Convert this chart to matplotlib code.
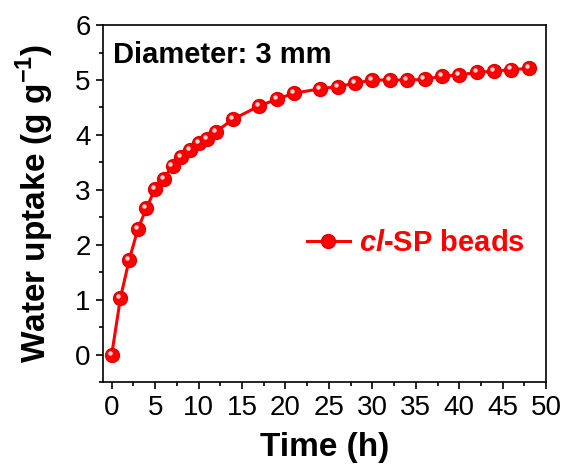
import matplotlib
matplotlib.use("Agg")
import matplotlib.pyplot as plt
import matplotlib.transforms as mtransforms
from matplotlib.ticker import MultipleLocator

plt.rcParams['font.family'] = ['Liberation Sans', 'DejaVu Sans']
plt.rcParams['mathtext.fontset'] = 'custom'
plt.rcParams['mathtext.rm'] = 'Liberation Sans'
plt.rcParams['mathtext.bf'] = 'Liberation Sans:bold'
plt.rcParams['mathtext.bfit'] = 'Liberation Sans:bold:italic'

# data
time_h = [0, 1, 2, 3, 4, 5, 6, 7, 8, 9, 10, 11, 12, 14, 17, 19, 21, 24, 26, 28,
          30, 32, 34, 36, 38, 40, 42, 44, 46, 48]
uptake = [0.0, 1.03, 1.72, 2.28, 2.67, 3.02, 3.20, 3.44, 3.60, 3.72, 3.86, 3.92,
          4.06, 4.29, 4.53, 4.65, 4.76, 4.84, 4.88, 4.94, 5.00, 5.00, 5.00, 5.01,
          5.07, 5.09, 5.14, 5.16, 5.19, 5.21]

fig = plt.figure(figsize=(5.66, 4.73), dpi=100)
ax = fig.add_axes([0.182, 0.192, 0.783, 0.755])

ax.plot(time_h, uptake, '-o', color='#ff0000', lw=2.2, ms=10, mec='#e00000',
        mew=1, label=r'$\mathbfit{cl}$-SP beads', zorder=3)
# little highlight on each bead
hl = mtransforms.offset_copy(ax.transData, fig=fig, x=-1.5, y=1.5, units='points')
ax.plot(time_h, uptake, 'o', color='#ffd8d8', ms=3.2, mew=0, transform=hl, zorder=4)

ax.set_xlim(-1, 50)
ax.set_ylim(-0.5, 6)
ax.xaxis.set_major_locator(MultipleLocator(5))
ax.xaxis.set_minor_locator(MultipleLocator(2.5))
ax.yaxis.set_major_locator(MultipleLocator(1))
ax.yaxis.set_minor_locator(MultipleLocator(0.5))
ax.tick_params(which='both', direction='out', top=False, right=False, width=1.2)
ax.tick_params(which='major', length=5, labelsize=20, pad=4)
ax.tick_params(which='minor', length=3)
for s in ax.spines.values():
    s.set_linewidth(1.2)

ax.set_xlabel('Time (h)', fontsize=24, fontweight='bold', labelpad=8)
ax.set_ylabel(r'Water uptake (g g$^{\mathbf{-1}}$)', fontsize=24, fontweight='bold', labelpad=14)

ax.text(0.022, 0.955, 'Diameter: 3 mm', transform=ax.transAxes, fontsize=21,
        fontweight='bold', va='top', ha='left')

leg = ax.legend(loc='center left', bbox_to_anchor=(0.40, 0.39), frameon=False,
                fontsize=21, handlelength=1.5, handletextpad=0.3)
for t in leg.get_texts():
    t.set_color('#ff0000')
    t.set_fontweight('bold')

fig.savefig('out.png', dpi=100)
